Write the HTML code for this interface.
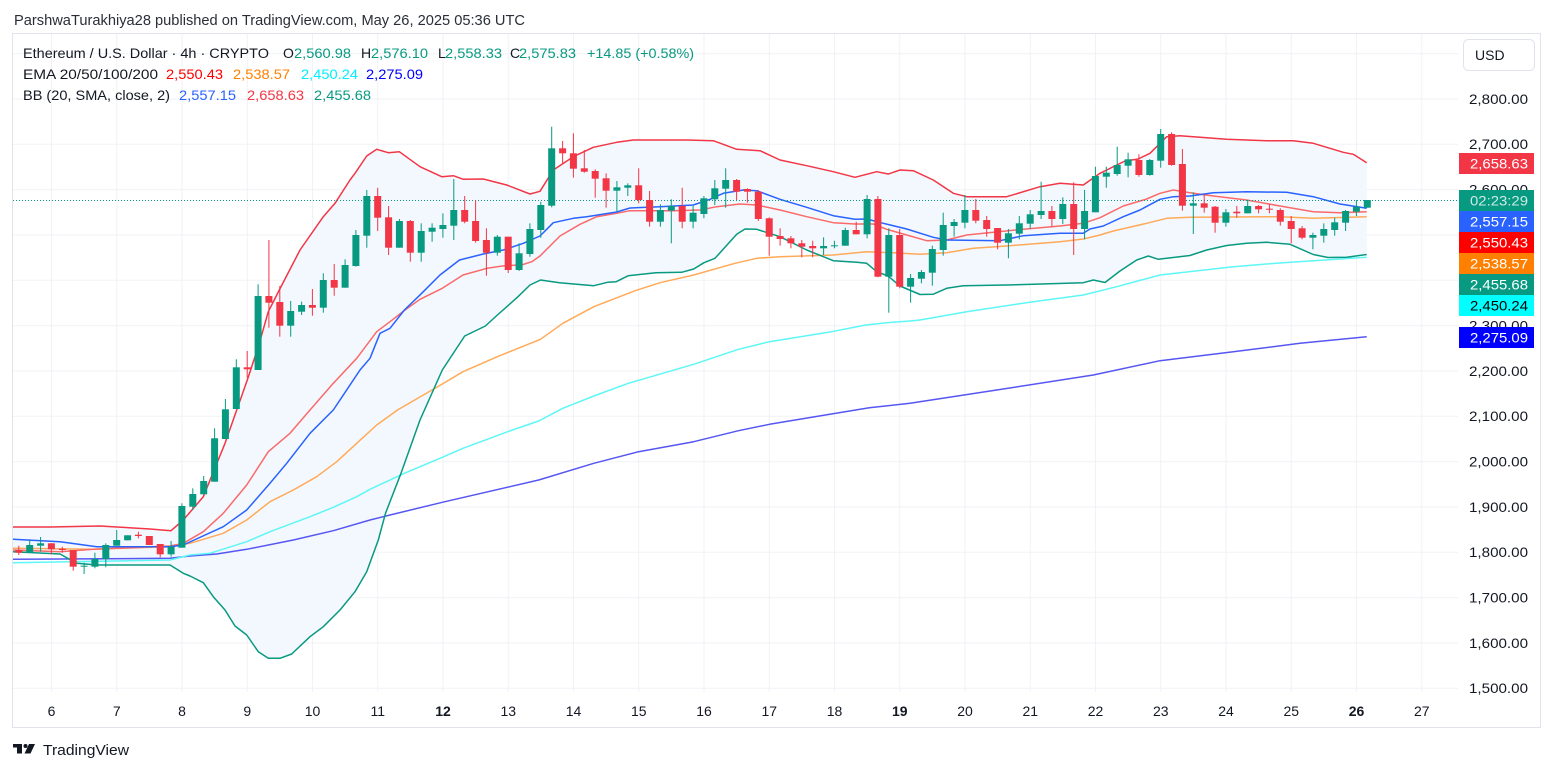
<!DOCTYPE html>
<html><head><meta charset="utf-8"><style>
html,body{margin:0;padding:0;background:#fff;}
svg{display:block;}
text{font-family:"Liberation Sans",sans-serif;}
</style></head><body>
<svg width="1553" height="772" viewBox="0 0 1553 772" xmlns="http://www.w3.org/2000/svg">
<rect width="1553" height="772" fill="#fff"/>
<defs><clipPath id="pane"><rect x="13" y="34" width="1445" height="658"/></clipPath></defs>
<!-- frame -->
<rect x="12.5" y="33.5" width="1528" height="694" fill="none" stroke="#E0E3EB"/>
<!-- grid -->
<g stroke="#F0F2F5" stroke-width="1">
<path d="M13 53.7H1458M13 99H1458M13 144.3H1458M13 189.7H1458M13 235H1458M13 280.3H1458M13 325.7H1458M13 371H1458M13 416.3H1458M13 461.7H1458M13 507H1458M13 552.3H1458M13 597.7H1458M13 643H1458M13 688.3H1458"/>
<path d="M51.5 34V692M116.75 34V692M182 34V692M247.25 34V692M312.5 34V692M377.75 34V692M443 34V692M508.25 34V692M573.5 34V692M638.75 34V692M704 34V692M769.25 34V692M834.5 34V692M899.75 34V692M965 34V692M1030.25 34V692M1095.5 34V692M1160.75 34V692M1226 34V692M1291.25 34V692M1356.5 34V692M1421.75 34V692"/>
</g>
<g clip-path="url(#pane)">
<!-- BB fill -->
<polygon fill="#F3F8FE" points="13,527 50,527 100,526 150,529 171,530.7 183.3,520 203.3,496.7 225,443.3 236.7,410 247.3,380 258.3,346.7 268.3,311.7 279.3,290 300,250 323.3,216.7 335,203.3 350,180 355,173.3 366.7,156 376.7,149.3 388.3,152.7 399.3,151.7 420,166.7 441.7,176.7 453.3,175.7 463.3,179.3 483.3,179 506.7,185 530,194 540,191.3 553.3,170 573.3,156.7 593.3,147.3 616.7,142.3 633.3,140 686.7,140 713.3,140.7 736.7,149.3 760,150.7 780,160 806.7,165.7 833.3,171.7 855,177.3 876.7,171.7 888.3,174 900,170 913.3,170.7 933.3,180 953.3,193.3 966.7,196.7 1006.7,196.7 1040,186.7 1060,183.3 1083.3,185 1100,173.3 1125,161 1138.3,159 1150,153.3 1166.7,136.7 1180,135.7 1226.7,139.3 1266.7,140.7 1293.3,140.7 1313.3,143.3 1343.3,152.3 1353.3,154.3 1366.7,162.7 1366.7,254.5 1346.7,257.3 1328,257.5 1313.3,254.5 1290,244.3 1266.7,242.3 1246.7,243.3 1226.7,245.5 1206.7,250 1190,255.5 1158.3,259.3 1148.3,256 1136.7,260 1120,271 1105,282.5 1093.3,280 1083.3,282.7 1033.3,284.3 1006.7,285 963.3,285.7 946.7,288.3 933,294.3 920,294.5 900,286 888,276 876.7,271.7 866.7,263.3 856.7,262.3 833.3,260.7 806.7,250 780,236.7 756.7,229.3 745,229 736.7,234.3 715,258.3 704,262.7 693.7,269 681.6,272.3 655.8,272.7 628.3,275.7 616.2,281.7 607.6,282.3 593.8,285.7 559.4,282.7 540.5,280 530,285 518,296.7 497.4,315 485.4,326 464.7,336 442.3,370 420,420 401,473.3 385.5,513.3 378.3,540 366.7,571.7 355,591.7 340,610 323.3,626.7 310,636.7 291.7,654 280,658.3 268.3,658.3 258.3,651.7 246.7,635 235,626 225,610 213.3,596.7 203.3,582.7 190,576 183.3,573.3 170,565 96.7,565 76.7,563.3 60,554 13,551.7"/>
<g fill="none" stroke-width="1.5" stroke-linejoin="round">
<!-- EMA200 -->
<polyline stroke="#5656F2" points="13,559.3 170,558.3 190,556 216.7,554 246.7,549.3 293.3,540 333.3,530.7 370,520 390,515 442.3,502.3 538.7,480 593.8,463.3 638.6,451.7 693.7,441.7 738.5,430.7 769.5,424.3 831.4,414 869.3,407.7 910,403.3 996.7,390 1093.3,375 1160,360.7 1233.3,351.7 1300,343.3 1366.7,336.7"/>
<!-- EMA100 -->
<polyline stroke="#5EF6F6" points="13,562.7 170,560 190,555 210,553.3 246.7,541.7 270,531.7 310,516.7 333.3,507.3 356.7,496.7 370,489.3 404.4,473.3 442.3,457.3 463,448.3 507.7,431.7 538.7,421 562.8,408.3 593.8,396 628.3,383.3 693.7,364.3 738.5,349.3 769.5,341.7 831.4,331.7 865.9,325 886.5,322.7 910,321 920,320 966.7,311.7 1033.3,301.7 1083.3,295 1116.7,286.7 1160,275 1233.3,266.7 1283.3,262.7 1366.7,257.3"/>
<!-- EMA50 -->
<polyline stroke="#FFAA58" points="13,548.3 93.3,549.3 170,546.7 190,543.3 223.3,533.3 246.7,520 270,501.7 293.3,490 316.7,476.7 336.7,461.7 356.7,443.3 376.7,425 397.5,410 442.3,384 463,371.7 497.4,356.7 518,348.3 540.5,339.3 562.8,323.3 593.8,306.7 635.2,290.7 660,282.7 693.7,275 735,263.3 756.7,258.3 780,256.7 833.3,255 866.7,251.7 893.3,252.7 920,254.3 946.7,252.7 973.3,248.3 1006.7,246 1060,241.7 1083.3,239 1100,235 1113.3,231 1146.7,223.3 1166.7,218.3 1190,217.3 1280,216.7 1313.3,218.3 1366.7,216.7"/>
<!-- EMA20 -->
<polyline stroke="#FA6A6A" points="13,550 60,551.7 93.3,549.3 170,546 183.3,543.3 203.3,531.7 223.3,513.3 246.7,485 268.3,451.7 290,433.3 310,410 333.3,383.3 356.7,358.3 376.7,331.7 390,321.7 405,310 420,299.3 442.3,288.3 463,275 487,268.3 504.3,265.7 521.5,265 531.8,261.7 540,256 560,236 580,224.3 596.7,216.7 616.7,213.3 630,210.7 673.3,210.7 700,210 716.7,206.7 740,204 756.7,205 780,210 806.7,216.7 833.3,222.7 855,224 873.3,224 886.7,229.3 906.7,235 926.7,240.7 946.7,240 966.7,235 993.3,232.3 1023.3,229.3 1060,226 1083.3,223.3 1100,217.7 1123.3,206 1146.7,199 1160,193.3 1173.3,190 1190,192.7 1213.3,196 1246.7,200 1280,206 1313.3,211.7 1340,212.7 1366.7,211.7"/>
<!-- BB lower -->
<polyline stroke="#089981" points="13,551.7 60,554 76.7,563.3 96.7,565 170,565 183.3,573.3 190,576 203.3,582.7 213.3,596.7 225,610 235,626 246.7,635 258.3,651.7 268.3,658.3 280,658.3 291.7,654 310,636.7 323.3,626.7 340,610 355,591.7 366.7,571.7 378.3,540 385.5,513.3 401,473.3 420,420 442.3,370 464.7,336 485.4,326 497.4,315 518,296.7 530,285 540.5,280 559.4,282.7 593.8,285.7 607.6,282.3 616.2,281.7 628.3,275.7 655.8,272.7 681.6,272.3 693.7,269 704,262.7 715,258.3 736.7,234.3 745,229 756.7,229.3 780,236.7 806.7,250 833.3,260.7 856.7,262.3 866.7,263.3 876.7,271.7 888,276 900,286 920,294.5 933,294.3 946.7,288.3 963.3,285.7 1006.7,285 1033.3,284.3 1083.3,282.7 1093.3,280 1105,282.5 1120,271 1136.7,260 1148.3,256 1158.3,259.3 1190,255.5 1206.7,250 1226.7,245.5 1246.7,243.3 1266.7,242.3 1290,244.3 1313.3,254.5 1328,257.5 1346.7,257.3 1366.7,254.5"/>
<!-- BB basis -->
<polyline stroke="#2962FF" points="13,539.3 60,541.7 76.7,544 96.7,546.7 170,546.7 183.3,545 223.3,526.7 246.7,510 270,483.3 286.7,463.3 310,433.3 333.3,410 360,370 370,358.3 380,333.3 390,328.3 404.4,310 421.7,293.3 440,275 459.5,260 483.3,254 503.3,250 523.3,243.3 540,236 553.3,222.7 573.3,218.3 586.7,216.7 616.7,212 630,208 660,206.7 693.3,205 710,199.3 723.3,193.3 743.3,190 756.7,190.7 780,199.3 806.7,207.3 833.3,215.7 855,219.3 866.7,219 883.3,223.3 906.7,229 933.3,237.3 946.7,240 1000,240.7 1023.3,235.7 1060,233.3 1083.3,233.3 1090,229 1103.3,226 1123.3,216.7 1140,210 1160,199.3 1173.3,196.7 1190,196 1213.3,192.7 1246.7,191.7 1286.7,192.3 1313.3,196.7 1340,204 1366.7,208.3"/>
<!-- BB upper -->
<polyline stroke="#F23645" points="13,527 50,527 100,526 150,529 171,530.7 183.3,520 203.3,496.7 225,443.3 236.7,410 247.3,380 258.3,346.7 268.3,311.7 279.3,290 300,250 323.3,216.7 335,203.3 350,180 355,173.3 366.7,156 376.7,149.3 388.3,152.7 399.3,151.7 420,166.7 441.7,176.7 453.3,175.7 463.3,179.3 483.3,179 506.7,185 530,194 540,191.3 553.3,170 573.3,156.7 593.3,147.3 616.7,142.3 633.3,140 686.7,140 713.3,140.7 736.7,149.3 760,150.7 780,160 806.7,165.7 833.3,171.7 855,177.3 876.7,171.7 888.3,174 900,170 913.3,170.7 933.3,180 953.3,193.3 966.7,196.7 1006.7,196.7 1040,186.7 1060,183.3 1083.3,185 1100,173.3 1125,161 1138.3,159 1150,153.3 1166.7,136.7 1180,135.7 1226.7,139.3 1266.7,140.7 1293.3,140.7 1313.3,143.3 1343.3,152.3 1353.3,154.3 1366.7,162.7"/>
</g>
<!-- price line -->
<line x1="13" y1="200.5" x2="1458" y2="200.5" stroke="#089981" stroke-width="1" stroke-dasharray="1 2"/>
<!-- red candles -->
<g fill="#F23645">
<rect x="18.3" y="545.7" width="1" height="9.3"/><rect x="15.3" y="550" width="7" height="2.7"/>
<rect x="50.9" y="543" width="1" height="11.3"/><rect x="47.9" y="543.3" width="7" height="6"/>
<rect x="61.8" y="546.7" width="1" height="6"/><rect x="58.8" y="548.7" width="7" height="1.3"/>
<rect x="72.7" y="550" width="1" height="20.7"/><rect x="69.7" y="550" width="7" height="16.7"/>
<rect x="137.9" y="531.7" width="1" height="6.6"/><rect x="134.9" y="534.7" width="7" height="1.3"/>
<rect x="148.8" y="536" width="1" height="9"/><rect x="145.8" y="536" width="7" height="9"/>
<rect x="159.7" y="544" width="1" height="13.3"/><rect x="156.7" y="544" width="7" height="10.3"/>
<rect x="246.7" y="351" width="1" height="26.7"/><rect x="243.7" y="367.3" width="7" height="2"/>
<rect x="268.4" y="240" width="1" height="87.7"/><rect x="265.4" y="296" width="7" height="6.7"/>
<rect x="279.3" y="286" width="1" height="50.7"/><rect x="276.3" y="302" width="7" height="23.7"/>
<rect x="311.9" y="289" width="1" height="26.7"/><rect x="308.9" y="305" width="7" height="2.7"/>
<rect x="333.7" y="264" width="1" height="31.7"/><rect x="330.7" y="280" width="7" height="7.7"/>
<rect x="377.2" y="187.7" width="1" height="43.3"/><rect x="374.2" y="196" width="7" height="21.7"/>
<rect x="388.1" y="206" width="1" height="49"/><rect x="385.1" y="217.3" width="7" height="30.4"/>
<rect x="409.8" y="220" width="1" height="41.7"/><rect x="406.8" y="221" width="7" height="31.7"/>
<rect x="464.2" y="196" width="1" height="27.3"/><rect x="461.2" y="210" width="7" height="11.7"/>
<rect x="475.1" y="200" width="1" height="42.7"/><rect x="472.1" y="221" width="7" height="20"/>
<rect x="485.9" y="228.3" width="1" height="47.4"/><rect x="482.9" y="240" width="7" height="12.7"/>
<rect x="507.7" y="236.7" width="1" height="36.3"/><rect x="504.7" y="236.7" width="7" height="33.3"/>
<rect x="562.1" y="141" width="1" height="22.3"/><rect x="559.1" y="148.3" width="7" height="5"/>
<rect x="572.9" y="133.3" width="1" height="44.4"/><rect x="569.9" y="153.3" width="7" height="15.4"/>
<rect x="583.8" y="150" width="1" height="22.7"/><rect x="580.8" y="168.3" width="7" height="3.4"/>
<rect x="594.7" y="169.3" width="1" height="28.4"/><rect x="591.7" y="171" width="7" height="7.7"/>
<rect x="605.6" y="173.3" width="1" height="34.4"/><rect x="602.6" y="178.3" width="7" height="12.4"/>
<rect x="638.2" y="168.3" width="1" height="35"/><rect x="635.2" y="185.3" width="7" height="14.7"/>
<rect x="649.1" y="191" width="1" height="35.7"/><rect x="646.1" y="200" width="7" height="21.7"/>
<rect x="681.7" y="187.7" width="1" height="40.6"/><rect x="678.7" y="206" width="7" height="15.7"/>
<rect x="736.1" y="179" width="1" height="21"/><rect x="733.1" y="180" width="7" height="11.7"/>
<rect x="746.9" y="188.3" width="1" height="14.4"/><rect x="743.9" y="189" width="7" height="2.7"/>
<rect x="757.8" y="190" width="1" height="31"/><rect x="754.8" y="191.7" width="7" height="27.3"/>
<rect x="768.7" y="217.3" width="1" height="38.4"/><rect x="765.7" y="218.3" width="7" height="18.4"/>
<rect x="779.6" y="228.3" width="1" height="17.4"/><rect x="776.6" y="236" width="7" height="3"/>
<rect x="790.4" y="236" width="1" height="12.3"/><rect x="787.4" y="238.3" width="7" height="5"/>
<rect x="801.3" y="240" width="1" height="17.3"/><rect x="798.3" y="243.3" width="7" height="3.4"/>
<rect x="812.2" y="240.7" width="1" height="16.6"/><rect x="809.2" y="246" width="7" height="2.3"/>
<rect x="855.7" y="221.7" width="1" height="12.6"/><rect x="852.7" y="230" width="7" height="4.3"/>
<rect x="877.4" y="196" width="1" height="81.3"/><rect x="874.4" y="199" width="7" height="77.7"/>
<rect x="899.2" y="229" width="1" height="59.3"/><rect x="896.2" y="235" width="7" height="51.7"/>
<rect x="975.3" y="199" width="1" height="24.3"/><rect x="972.3" y="210" width="7" height="10.7"/>
<rect x="986.2" y="216" width="1" height="20.7"/><rect x="983.2" y="220" width="7" height="9"/>
<rect x="997.1" y="228" width="1" height="21.3"/><rect x="994.1" y="228" width="7" height="14.7"/>
<rect x="1051.4" y="206" width="1" height="20.7"/><rect x="1048.4" y="211" width="7" height="8"/>
<rect x="1073.2" y="182.3" width="1" height="72.7"/><rect x="1070.2" y="204" width="7" height="25"/>
<rect x="1138.4" y="154.3" width="1" height="22.4"/><rect x="1135.4" y="160" width="7" height="15"/>
<rect x="1171.1" y="132.3" width="1" height="33.4"/><rect x="1168.1" y="134" width="7" height="31"/>
<rect x="1181.9" y="149" width="1" height="61.7"/><rect x="1178.9" y="164" width="7" height="41.7"/>
<rect x="1203.7" y="194" width="1" height="18.7"/><rect x="1200.7" y="203.3" width="7" height="4.4"/>
<rect x="1214.6" y="206" width="1" height="26.7"/><rect x="1211.6" y="206.7" width="7" height="16"/>
<rect x="1236.3" y="206" width="1" height="11.7"/><rect x="1233.3" y="211.7" width="7" height="1.6"/>
<rect x="1258.1" y="205" width="1" height="8.3"/><rect x="1255.1" y="206" width="7" height="3.3"/>
<rect x="1268.9" y="204.3" width="1" height="9"/><rect x="1265.9" y="208.7" width="7" height="1"/>
<rect x="1279.8" y="208.3" width="1" height="17.4"/><rect x="1276.8" y="210" width="7" height="11.7"/>
<rect x="1290.7" y="216" width="1" height="27.3"/><rect x="1287.7" y="221" width="7" height="8"/>
<rect x="1301.6" y="226" width="1" height="13.3"/><rect x="1298.6" y="228.3" width="7" height="9.4"/>
</g>
<!-- green candles -->
<g fill="#089981">
<rect x="29.2" y="539.3" width="1" height="13.4"/><rect x="26.2" y="545" width="7" height="7.7"/>
<rect x="40.1" y="537" width="1" height="14.7"/><rect x="37.1" y="543.3" width="7" height="2.4"/>
<rect x="83.6" y="562.7" width="1" height="11.3"/><rect x="80.6" y="565.7" width="7" height="1"/>
<rect x="94.4" y="552.7" width="1" height="15.6"/><rect x="91.4" y="559" width="7" height="7.7"/>
<rect x="105.3" y="543.3" width="1" height="24"/><rect x="102.3" y="545" width="7" height="14"/>
<rect x="116.2" y="530" width="1" height="15.7"/><rect x="113.2" y="540" width="7" height="5.7"/>
<rect x="127.1" y="535.3" width="1" height="5"/><rect x="124.1" y="535.3" width="7" height="5"/>
<rect x="170.6" y="541" width="1" height="15.7"/><rect x="167.6" y="546.7" width="7" height="7.6"/>
<rect x="181.4" y="503.3" width="1" height="44.4"/><rect x="178.4" y="506" width="7" height="41.7"/>
<rect x="192.3" y="488.3" width="1" height="21.7"/><rect x="189.3" y="494" width="7" height="12.7"/>
<rect x="203.2" y="476" width="1" height="18.3"/><rect x="200.2" y="481" width="7" height="13.3"/>
<rect x="214.1" y="428.3" width="1" height="53.4"/><rect x="211.1" y="438.3" width="7" height="43.4"/>
<rect x="224.9" y="399" width="1" height="40"/><rect x="221.9" y="409.3" width="7" height="29.7"/>
<rect x="235.8" y="359.3" width="1" height="49.7"/><rect x="232.8" y="367.3" width="7" height="41.7"/>
<rect x="257.6" y="284.3" width="1" height="85.7"/><rect x="254.6" y="296" width="7" height="74"/>
<rect x="290.2" y="301" width="1" height="35.7"/><rect x="287.2" y="311" width="7" height="14.7"/>
<rect x="301.1" y="301.7" width="1" height="13.3"/><rect x="298.1" y="305" width="7" height="6.7"/>
<rect x="322.8" y="273.3" width="1" height="39.4"/><rect x="319.8" y="280" width="7" height="27.7"/>
<rect x="344.6" y="259.3" width="1" height="28.4"/><rect x="341.6" y="265" width="7" height="22.7"/>
<rect x="355.4" y="230" width="1" height="36.7"/><rect x="352.4" y="235" width="7" height="31"/>
<rect x="366.3" y="190" width="1" height="57.7"/><rect x="363.3" y="196" width="7" height="39.7"/>
<rect x="398.9" y="219" width="1" height="28.7"/><rect x="395.9" y="221" width="7" height="26.7"/>
<rect x="420.7" y="223.3" width="1" height="38.4"/><rect x="417.7" y="231" width="7" height="21.7"/>
<rect x="431.6" y="223.3" width="1" height="18.4"/><rect x="428.6" y="227.7" width="7" height="4"/>
<rect x="442.4" y="213.3" width="1" height="24.4"/><rect x="439.4" y="225" width="7" height="4"/>
<rect x="453.3" y="179" width="1" height="61"/><rect x="450.3" y="210" width="7" height="15.7"/>
<rect x="496.8" y="235" width="1" height="20.7"/><rect x="493.8" y="236.7" width="7" height="16"/>
<rect x="518.6" y="243.3" width="1" height="27.7"/><rect x="515.6" y="253.3" width="7" height="16.7"/>
<rect x="529.4" y="223.3" width="1" height="33.4"/><rect x="526.4" y="229" width="7" height="25"/>
<rect x="540.3" y="201.7" width="1" height="36"/><rect x="537.3" y="205" width="7" height="25"/>
<rect x="551.2" y="126.7" width="1" height="80.6"/><rect x="548.2" y="148.3" width="7" height="57.4"/>
<rect x="616.4" y="181" width="1" height="30.7"/><rect x="613.4" y="187.3" width="7" height="3.4"/>
<rect x="627.3" y="183.3" width="1" height="12.7"/><rect x="624.3" y="185.3" width="7" height="2.4"/>
<rect x="659.9" y="204.3" width="1" height="22.4"/><rect x="656.9" y="210" width="7" height="11.7"/>
<rect x="670.8" y="199.3" width="1" height="44"/><rect x="667.8" y="206" width="7" height="4.7"/>
<rect x="692.6" y="206" width="1" height="22.3"/><rect x="689.6" y="212.7" width="7" height="9"/>
<rect x="703.4" y="196" width="1" height="22.3"/><rect x="700.4" y="198.3" width="7" height="15.7"/>
<rect x="714.3" y="180" width="1" height="25"/><rect x="711.3" y="188.3" width="7" height="11"/>
<rect x="725.2" y="168.3" width="1" height="39.4"/><rect x="722.2" y="180" width="7" height="8.7"/>
<rect x="823.1" y="237.3" width="1" height="17.7"/><rect x="820.1" y="246" width="7" height="2.3"/>
<rect x="833.9" y="240.7" width="1" height="7.6"/><rect x="830.9" y="245.3" width="7" height="1"/>
<rect x="844.8" y="227.7" width="1" height="18"/><rect x="841.8" y="230" width="7" height="15.7"/>
<rect x="866.6" y="195" width="1" height="43.3"/><rect x="863.6" y="199" width="7" height="35.3"/>
<rect x="888.3" y="228.3" width="1" height="84.4"/><rect x="885.3" y="235" width="7" height="41.7"/>
<rect x="910.1" y="274" width="1" height="28.7"/><rect x="907.1" y="278" width="7" height="8.7"/>
<rect x="920.9" y="270" width="1" height="13.3"/><rect x="917.9" y="272" width="7" height="6.7"/>
<rect x="931.8" y="245.7" width="1" height="40"/><rect x="928.8" y="249" width="7" height="23.7"/>
<rect x="942.7" y="212.7" width="1" height="43"/><rect x="939.7" y="225" width="7" height="25"/>
<rect x="953.6" y="219" width="1" height="17.7"/><rect x="950.6" y="222" width="7" height="4"/>
<rect x="964.4" y="195" width="1" height="33.3"/><rect x="961.4" y="210" width="7" height="12.7"/>
<rect x="1007.9" y="229" width="1" height="29.3"/><rect x="1004.9" y="233.3" width="7" height="9.4"/>
<rect x="1018.8" y="216" width="1" height="23.3"/><rect x="1015.8" y="223.3" width="7" height="10.4"/>
<rect x="1029.7" y="210" width="1" height="19"/><rect x="1026.7" y="214.3" width="7" height="9.4"/>
<rect x="1040.6" y="181.7" width="1" height="37.3"/><rect x="1037.6" y="211" width="7" height="4"/>
<rect x="1062.3" y="197.3" width="1" height="26.7"/><rect x="1059.3" y="204" width="7" height="15"/>
<rect x="1084.1" y="190" width="1" height="49.3"/><rect x="1081.1" y="211" width="7" height="18"/>
<rect x="1094.9" y="166.7" width="1" height="45.6"/><rect x="1091.9" y="176" width="7" height="36.3"/>
<rect x="1105.8" y="166.7" width="1" height="21"/><rect x="1102.8" y="172.7" width="7" height="4"/>
<rect x="1116.7" y="146.7" width="1" height="29"/><rect x="1113.7" y="165" width="7" height="9"/>
<rect x="1127.6" y="152.7" width="1" height="24.6"/><rect x="1124.6" y="159.3" width="7" height="6.4"/>
<rect x="1149.3" y="159" width="1" height="16.7"/><rect x="1146.3" y="160" width="7" height="15"/>
<rect x="1160.2" y="129" width="1" height="38.7"/><rect x="1157.2" y="134" width="7" height="26.7"/>
<rect x="1192.8" y="192.3" width="1" height="41.7"/><rect x="1189.8" y="203.3" width="7" height="2.4"/>
<rect x="1225.4" y="209" width="1" height="17.7"/><rect x="1222.4" y="212.3" width="7" height="10.4"/>
<rect x="1247.2" y="200" width="1" height="13.3"/><rect x="1244.2" y="206" width="7" height="7.3"/>
<rect x="1312.4" y="232.7" width="1" height="16.6"/><rect x="1309.4" y="235" width="7" height="2.7"/>
<rect x="1323.3" y="223.3" width="1" height="19.4"/><rect x="1320.3" y="229" width="7" height="6.7"/>
<rect x="1334.2" y="217.7" width="1" height="18"/><rect x="1331.2" y="222.3" width="7" height="7.7"/>
<rect x="1345.1" y="210" width="1" height="21"/><rect x="1342.1" y="211" width="7" height="11.7"/>
<rect x="1355.9" y="200" width="1" height="16"/><rect x="1352.9" y="206.7" width="7" height="5"/>
<rect x="1366.8" y="200" width="1" height="7.7"/><rect x="1363.8" y="200" width="7" height="7.7"/>
</g>
</g>
<!-- title -->
<text x="14" y="25" font-size="15" fill="#2A2E39" textLength="511" lengthAdjust="spacingAndGlyphs">ParshwaTurakhiya28 published on TradingView.com, May 26, 2025 05:36 UTC</text>
<!-- legend -->
<g font-size="14">
<text x="23" y="58" fill="#131722" textLength="246" lengthAdjust="spacingAndGlyphs">Ethereum / U.S. Dollar · 4h · CRYPTO</text>
<text x="283" y="58" fill="#131722">O</text><text x="294" y="58" fill="#089981" textLength="57" lengthAdjust="spacingAndGlyphs">2,560.98</text>
<text x="361" y="58" fill="#131722">H</text><text x="371" y="58" fill="#089981" textLength="57" lengthAdjust="spacingAndGlyphs">2,576.10</text>
<text x="438" y="58" fill="#131722">L</text><text x="445" y="58" fill="#089981" textLength="57" lengthAdjust="spacingAndGlyphs">2,558.33</text>
<text x="510" y="58" fill="#131722">C</text><text x="519" y="58" fill="#089981" textLength="57" lengthAdjust="spacingAndGlyphs">2,575.83</text>
<text x="587" y="58" fill="#089981" textLength="107" lengthAdjust="spacingAndGlyphs">+14.85 (+0.58%)</text>
<text x="23" y="79" fill="#131722" textLength="135" lengthAdjust="spacingAndGlyphs">EMA 20/50/100/200</text>
<text x="166" y="79" fill="#FF0000" textLength="57" lengthAdjust="spacingAndGlyphs">2,550.43</text>
<text x="233" y="79" fill="#FF8000" textLength="57" lengthAdjust="spacingAndGlyphs">2,538.57</text>
<text x="301" y="79" fill="#00F0FF" textLength="57" lengthAdjust="spacingAndGlyphs">2,450.24</text>
<text x="366" y="79" fill="#0000FF" textLength="57" lengthAdjust="spacingAndGlyphs">2,275.09</text>
<text x="23" y="100" fill="#131722" textLength="147" lengthAdjust="spacingAndGlyphs">BB (20, SMA, close, 2)</text>
<text x="179" y="100" fill="#2962FF" textLength="57" lengthAdjust="spacingAndGlyphs">2,557.15</text>
<text x="247" y="100" fill="#F23645" textLength="57" lengthAdjust="spacingAndGlyphs">2,658.63</text>
<text x="314" y="100" fill="#089981" textLength="57" lengthAdjust="spacingAndGlyphs">2,455.68</text>
</g>
<!-- USD box -->
<rect x="1463.5" y="39.5" width="71" height="31" rx="5" fill="#fff" stroke="#E0E3EB"/>
<text x="1475" y="60" font-size="14" fill="#131722">USD</text>
<!-- price axis labels -->
<g font-size="14" fill="#131722">
<text x="1469" y="104" textLength="59" lengthAdjust="spacingAndGlyphs">2,800.00</text>
<text x="1469" y="149" textLength="59" lengthAdjust="spacingAndGlyphs">2,700.00</text>
<text x="1469" y="194.5" textLength="59" lengthAdjust="spacingAndGlyphs">2,600.00</text>
<text x="1469" y="330.5" textLength="59" lengthAdjust="spacingAndGlyphs">2,300.00</text>
<text x="1469" y="376" textLength="59" lengthAdjust="spacingAndGlyphs">2,200.00</text>
<text x="1469" y="421" textLength="59" lengthAdjust="spacingAndGlyphs">2,100.00</text>
<text x="1469" y="466.5" textLength="59" lengthAdjust="spacingAndGlyphs">2,000.00</text>
<text x="1469" y="512" textLength="59" lengthAdjust="spacingAndGlyphs">1,900.00</text>
<text x="1469" y="557" textLength="59" lengthAdjust="spacingAndGlyphs">1,800.00</text>
<text x="1469" y="602.5" textLength="59" lengthAdjust="spacingAndGlyphs">1,700.00</text>
<text x="1469" y="648" textLength="59" lengthAdjust="spacingAndGlyphs">1,600.00</text>
<text x="1469" y="693" textLength="59" lengthAdjust="spacingAndGlyphs">1,500.00</text>
</g>
<!-- tags -->
<g font-size="14">
<rect x="1459" y="153" width="75" height="21" fill="#F23645"/><text x="1470" y="168.5" fill="#fff" textLength="58" lengthAdjust="spacingAndGlyphs">2,658.63</text>
<rect x="1459" y="190" width="75" height="21" fill="#089981"/><text x="1470" y="205.5" fill="#fff" fill-opacity="0.8" textLength="58" lengthAdjust="spacingAndGlyphs">02:23:29</text>
<rect x="1459" y="211" width="75" height="21" fill="#2962FF"/><text x="1470" y="226.5" fill="#fff" textLength="58" lengthAdjust="spacingAndGlyphs">2,557.15</text>
<rect x="1459" y="232" width="75" height="21" fill="#FF0000"/><text x="1470" y="247.5" fill="#fff" textLength="58" lengthAdjust="spacingAndGlyphs">2,550.43</text>
<rect x="1459" y="253" width="75" height="21" fill="#FF8000"/><text x="1470" y="268.5" fill="#fff" textLength="58" lengthAdjust="spacingAndGlyphs">2,538.57</text>
<rect x="1459" y="274" width="75" height="21" fill="#089981"/><text x="1470" y="289.5" fill="#fff" textLength="58" lengthAdjust="spacingAndGlyphs">2,455.68</text>
<rect x="1459" y="295" width="75" height="21" fill="#00FFFF"/><text x="1470" y="310.5" fill="#000" textLength="58" lengthAdjust="spacingAndGlyphs">2,450.24</text>
<rect x="1459" y="327" width="75" height="21" fill="#0000FF"/><text x="1470" y="342.5" fill="#fff" textLength="58" lengthAdjust="spacingAndGlyphs">2,275.09</text>
</g>
<!-- time axis -->
<g font-size="14" fill="#131722" text-anchor="middle">
<text x="51.5" y="716">6</text><text x="116.75" y="716">7</text><text x="182" y="716">8</text><text x="247.25" y="716">9</text>
<text x="312.5" y="716">10</text><text x="377.75" y="716">11</text><text x="443" y="716" font-weight="bold">12</text><text x="508.25" y="716">13</text>
<text x="573.5" y="716">14</text><text x="638.75" y="716">15</text><text x="704" y="716">16</text><text x="769.25" y="716">17</text>
<text x="834.5" y="716">18</text><text x="899.75" y="716" font-weight="bold">19</text><text x="965" y="716">20</text><text x="1030.25" y="716">21</text>
<text x="1095.5" y="716">22</text><text x="1160.75" y="716">23</text><text x="1226" y="716">24</text><text x="1291.25" y="716">25</text>
<text x="1356.5" y="716" font-weight="bold">26</text><text x="1421.75" y="716">27</text>
</g>
<!-- footer logo -->
<g fill="#131722">
<rect x="13" y="744" width="9" height="3.5"/>
<rect x="17" y="744" width="5" height="9.5"/>
<circle cx="25.5" cy="746" r="2"/>
<polygon points="29,744 35,744 30.5,753.5 24.5,753.5"/>
</g>
<text x="43" y="755" font-size="15" fill="#131722" textLength="86" lengthAdjust="spacingAndGlyphs">TradingView</text>
</svg>
</body></html>
